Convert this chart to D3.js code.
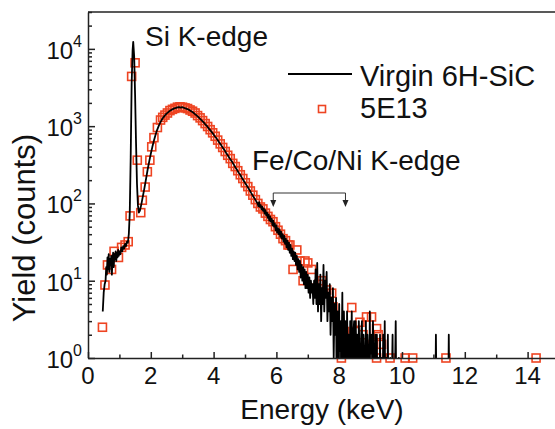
<!DOCTYPE html>
<html><head><meta charset="utf-8">
<script src="https://cdn.jsdelivr.net/npm/d3@7"></script>
<style>
html,body{margin:0;padding:0;background:#fff;}
svg{display:block;}
text{font-family:"Liberation Sans",Arial,sans-serif;fill:#111;}
</style></head>
<body>
<svg id="chart" width="555" height="429"></svg>
<script>
// ---- data ----
const xTicksMajor = [0,2,4,6,8,10,12,14];
const xTicksMinor = [1,3,5,7,9,11,13];
const yDecades = [1,10,100,1000,10000];
const yExps = ["0","1","2","3","4"];

// Virgin 6H-SiC spectrum: energy (keV) and counts
const virginE = [0.47,0.50,0.53,0.56,0.58,0.60,0.62,0.64,0.66,0.68,0.70,0.72,0.74,0.76,0.78,0.80,0.82,0.84,0.86,0.88,0.90,0.92,0.94,0.96,0.98,1.00,1.03,1.06,1.09,1.12,1.15,1.18,1.21,1.24,1.27,1.30,1.33,1.36,1.39,1.42,1.44,1.47,1.50,1.53,1.56,1.59,1.62,1.65,1.70,1.75,1.80,1.85,1.90,1.95,2.00,2.05,2.10,2.15,2.20,2.25,2.30,2.35,2.40,2.45,2.50,2.55,2.60,2.65,2.70,2.75,2.80,2.85,2.90,2.95,3.00,3.05,3.10,3.15,3.20,3.25,3.30,3.35,3.40,3.45,3.50,3.55,3.60,3.65,3.70,3.75,3.80,3.85,3.90,3.95,4.00,4.05,4.10,4.15,4.20,4.25,4.30,4.35,4.40,4.45,4.50,4.55,4.60,4.65,4.70,4.75,4.80,4.85,4.90,4.95,5.00,5.05,5.10,5.15,5.20,5.25,5.30,5.35,
5.400,5.425,5.450,5.475,5.500,5.525,5.550,5.575,5.600,5.625,5.650,5.675,5.700,5.725,5.750,5.775,5.800,5.825,5.850,5.875,5.900,5.925,5.950,5.975,6.000,6.025,6.050,6.075,6.100,6.125,6.150,6.175,6.200,6.225,6.250,6.275,6.300,6.325,6.350,6.375,6.400,6.425,6.450,6.475,6.500,6.525,6.550,6.575,6.600,6.625,6.650,6.675,6.700,6.725,6.750,6.775,6.800,6.825,6.850,6.875,6.900,6.925,6.950,6.975,7.000,7.025,7.050,7.075,7.100,7.125,7.150,7.175,7.200,7.225,7.250,7.275,7.300,7.325,7.350,7.375,7.400,7.425,7.450,7.475,7.500,7.525,7.550,7.575,7.600,7.625,7.650,7.675,7.700,7.725,7.750,7.775,7.800,7.825,7.850,7.875,7.900,7.925,7.950,7.975,8.000,8.025,8.050,8.075,8.100,8.125,8.150,8.175,8.200,8.225,8.250,8.275,8.300,8.325,8.350,8.375,8.400,8.425,8.450,8.475,8.500,8.525,8.550,8.575,8.600,8.625,8.650,8.675,8.700,8.725,8.750,8.775,8.800,8.825,8.850,8.875,8.900,8.925,8.950,8.975,9.000,9.025,9.050,9.075,9.100,9.125,9.150,9.175,9.200,9.225,9.250,9.275,9.300,9.325,9.350,9.375,9.400,9.425,9.450,9.475,9.500,9.525,9.550,9.575,9.600,9.625,9.650,9.700,9.725,9.750,9.800,9.825,9.850,9.900,9.925,10.00,10.50,11.05,11.08,11.11,11.46,11.49,11.52,12.0,13.0,14.0,15.0];
const virginC = [4,7,9,10,15,12,20,14,22,13,19,16,21,12,18,23,15,22,19,24,18,23,20,25,21,24,22,27,24,28,26,30,28,32,31,40,75,400,3500,9500,12300,8000,2500,600,180,95,76,80,98,125,160,210,275,350,440,540,650,770,890,1000,1110,1210,1300,1380,1450,1510,1570,1620,1660,1700,1720,1750,1760,1740,1760,1730,1700,1670,1640,1590,1550,1500,1440,1390,1330,1270,1210,1150,1100,1040,990,930,880,830,780,730,690,640,600,560,520,490,450,420,390,365,340,315,290,270,250,235,215,200,185,172,160,148,136,126,117,108,
100,92,104,90,95,84,91,80,86,74,82,70,76,65,72,60,68,58,63,52,60,50,55,45,52,42,48,40,46,37,43,35,40,32,38,30,35,27,33,25,31,23,29,21,26,19,24,18,23,16,21,14,19,13,18,11,16,10,15,9,14,8,13,8,12,7,11,6,10,7,9,5,10,6,14,5,17,4,9,5,12,3,8,5,16,4,10,6,13,3,7,4,9,2,6,3,8,1,5,2,6,0,4,1,5,0,3,1,7,0,4,1,3,0,4,1,2,0,3,1,4,0,2,3,0,3,1,2,0,3,1,0,2,3,0,2,1,0,3,0,2,1,0,4,0,2,0,3,1,0,2,0,2,0,1,0,2,0,1,0,2,0,3,0,1,0,2,0,0,1,0,2,0,0,3,0,0,1,0,0,0,0,2,0,0,2,0,0,0,0,0];

// 5E13 sample: energy (keV) and counts
const dopedE = [0.46,0.54,0.62,0.75,0.83,0.97,1.07,1.18,1.28,1.34,1.39,1.50,1.57,1.68,1.73,1.82,1.89,1.97,2.03,2.10,2.21,2.31,2.38,2.45,2.53,2.61,2.69,2.77,2.85,2.93,3.01,3.09,3.17,3.25,3.33,3.41,3.49,3.57,3.65,3.73,3.81,3.89,3.97,4.05,4.13,4.21,4.29,4.37,4.45,4.53,4.61,4.69,4.77,4.85,4.93,5.01,5.09,5.17,5.25,5.33,5.41,5.49,5.57,5.65,5.73,5.81,5.89,5.97,6.05,6.13,6.21,6.29,6.37,6.43,6.53,6.65,6.75,6.85,6.91,7.00,7.12,7.23,7.35,7.45,7.60,7.76,7.80,8.00,8.07,8.18,8.34,8.40,8.50,8.66,8.76,8.87,9.03,9.08,9.19,9.19,9.24,9.35,9.62,10.10,10.34,11.40,14.27];
const dopedC = [2.5,8.8,16,14,24,20,27,29,32,69,4400,6600,363,76,110,163,257,363,540,710,960,1200,1300,1390,1480,1590,1650,1700,1760,1780,1760,1720,1690,1620,1560,1480,1370,1280,1180,1080,990,900,820,740,660,590,530,470,420,380,330,300,265,235,210,185,165,145,128,112,100,90,85,75,68,62,58,50,45,40,35,33,29,29,14,25,18,10,18,17,14,8,9,10,7.6,6.9,4.6,2.4,1,2.2,1.7,4.5,2.2,2.9,2.0,3.4,3.4,1.5,2.4,1,2.0,1.5,1,1,1,1,1];

const seriesNames = ["Virgin 6H-SiC","5E13"];
const annotSi = "Si K-edge";
const annotFe = "Fe/Co/Ni K-edge";
const bracketE = [5.9, 8.2];

// ---- drawing ----
const svg = d3.select("#chart");
const x = d3.scaleLinear().domain([0,15]).range([88,559]);
const y = d3.scaleLog().domain([1,30000]).range([358,12]);
const axisColor = "#222";

svg.append("defs").append("clipPath").attr("id","clip")
  .append("rect").attr("x",88).attr("y",12).attr("width",480).attr("height",346);

const virgin = virginE.map((e,i)=>({e, c: virginC[i]}));
const doped = dopedE.map((e,i)=>({e, c: dopedC[i]}));

// markers (under the line)
const sq = 8;
svg.append("g").selectAll("rect").data(doped).join("rect")
  .attr("x", d=>x(d.e)-sq/2).attr("y", d=>y(d.c)-sq/2)
  .attr("width",sq).attr("height",sq)
  .attr("fill","none").attr("stroke","#ee4422").attr("stroke-width",1.6);

// line
const line = d3.line().x(d=>x(d.e)).y(d=>y(Math.max(d.c,0.1)));
svg.append("path").datum(virgin).attr("clip-path","url(#clip)")
  .attr("d",line).attr("fill","none").attr("stroke","#000")
  .attr("stroke-width",1.8).attr("stroke-linejoin","round");

// axes
svg.append("g").attr("transform","translate(0,358)")
  .call(d3.axisBottom(x).tickValues(xTicksMajor).tickSizeInner(-6).tickSizeOuter(0).tickFormat(""));
const gx2 = svg.append("g").attr("transform","translate(0,358)")
  .call(d3.axisBottom(x).tickValues(xTicksMinor).tickSizeInner(-3.5).tickSizeOuter(0).tickFormat(""));
gx2.select(".domain").remove();
const minorY = [];
for (const d of yDecades) for (const m of [2,3,4,5,6,7,8,9]) if (d*m<=30000) minorY.push(d*m);
svg.append("g").attr("transform","translate(88,0)")
  .call(d3.axisLeft(y).tickValues(yDecades).tickSizeInner(-7).tickSizeOuter(0).tickFormat(""));
const gy2 = svg.append("g").attr("transform","translate(88,0)")
  .call(d3.axisLeft(y).tickValues(minorY).tickSizeInner(-4).tickSizeOuter(0).tickFormat(""));
gy2.select(".domain").remove();
svg.selectAll(".domain, .tick line").attr("stroke",axisColor).attr("stroke-width",1.5);
svg.append("line").attr("x1",88).attr("x2",555).attr("y1",12).attr("y2",12)
  .attr("stroke",axisColor).attr("stroke-width",1.5);

// tick labels
svg.append("g").selectAll("text").data(xTicksMajor).join("text")
  .attr("x",d=>x(d)).attr("y",384).attr("text-anchor","middle")
  .attr("font-size",24).text(d=>d);
const yl = svg.append("g").selectAll("text").data(yDecades).join("text")
  .attr("x",82).attr("y",d=>y(d)+10).attr("text-anchor","end").attr("font-size",24);
yl.append("tspan").text("10");
yl.append("tspan").attr("dy",-12).attr("font-size",16).text((d,i)=>yExps[i]);

// axis titles
svg.append("text").attr("x",322).attr("y",419).attr("text-anchor","middle")
  .attr("font-size",28).text("Energy (keV)");
svg.append("text").attr("transform","translate(35,228) rotate(-90)")
  .attr("text-anchor","middle").attr("font-size",31).text("Yield (counts)");

// annotations
svg.append("text").attr("x",145).attr("y",46).attr("font-size",28).text(annotSi);
svg.append("text").attr("x",252).attr("y",170).attr("font-size",28).text(annotFe);
const by = 193, tipY = 207;
const br = svg.append("g").attr("stroke","#333").attr("stroke-width",1).attr("fill","none");
br.append("path").attr("d",`M${x(bracketE[0])},${tipY-6}V${by}H${x(bracketE[1])}V${tipY-6}`);
for (const e of bracketE) {
  svg.append("path").attr("d",`M${x(e)-3},${tipY-7}L${x(e)+3},${tipY-7}L${x(e)},${tipY}Z`).attr("fill","#222");
}

// legend
svg.append("line").attr("x1",288).attr("x2",352).attr("y1",74).attr("y2",74)
  .attr("stroke","#000").attr("stroke-width",1.8);
svg.append("text").attr("x",360).attr("y",86).attr("font-size",29).text(seriesNames[0]);
svg.append("rect").attr("x",322-3.5).attr("y",109-3.5).attr("width",7).attr("height",7)
  .attr("fill","none").attr("stroke","#ee4422").attr("stroke-width",1.6);
svg.append("text").attr("x",360).attr("y",118).attr("font-size",29).text(seriesNames[1]);
</script>
</body></html>
